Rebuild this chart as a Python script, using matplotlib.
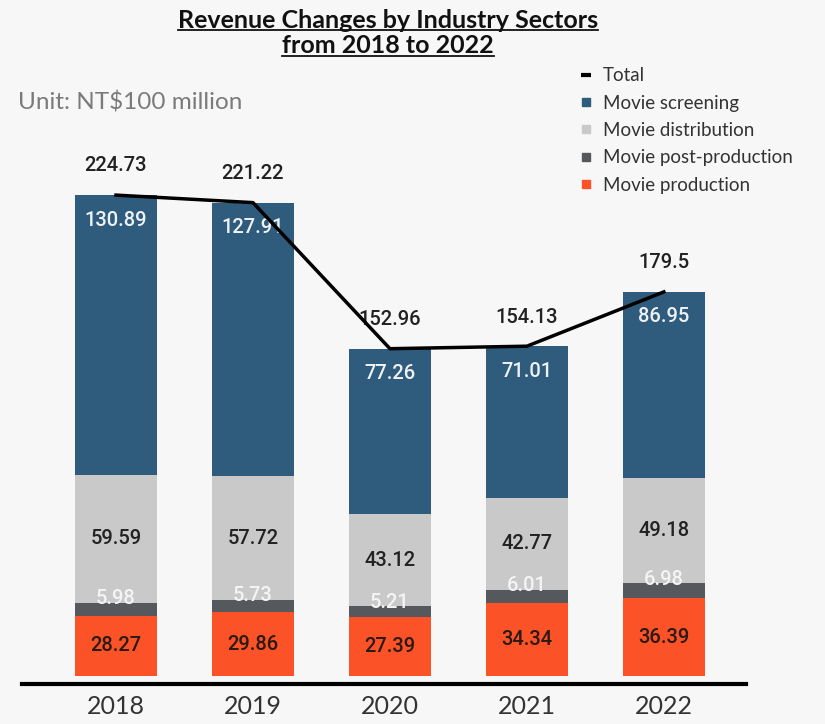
import matplotlib.pyplot as plt
import numpy as np
from matplotlib.lines import Line2D

years = ['2018', '2019', '2020', '2021', '2022']
production = [28.27, 29.86, 27.39, 34.34, 36.39]
post_production = [5.98, 5.73, 5.21, 6.01, 6.98]
distribution = [59.59, 57.72, 43.12, 42.77, 49.18]
screening = [130.89, 127.91, 77.26, 71.01, 86.95]
total = [224.73, 221.22, 152.96, 154.13, 179.5]

c_screen = '#2f5b7c'
c_dist = '#c9c9c9'
c_post = '#55595d'
c_prod = '#fb5227'
bg = '#f7f7f7'

fig = plt.figure(figsize=(8.25, 7.24), dpi=100, facecolor=bg)
ax = fig.add_axes([0.0267, 0.0552, 0.8776, 0.8978])
ax.set_facecolor(bg)

x = np.arange(len(years))
w = 0.6
b1 = np.array(production)
b2 = b1 + np.array(post_production)
b3 = b2 + np.array(distribution)

ax.bar(x, production, w, color=c_prod)
ax.bar(x, post_production, w, bottom=b1, color=c_post)
ax.bar(x, distribution, w, bottom=b2, color=c_dist)
ax.bar(x, screening, w, bottom=b3, color=c_screen)
ax.plot(x, total, color='black', lw=2.5, zorder=5)

num_font = dict(family='Roboto', fontweight='medium', fontsize=14.5, ha='center', va='center')
for i in range(len(years)):
    ax.text(x[i], production[i] / 2, f'{production[i]:.2f}', color='#2a1a14', **num_font)
    ax.annotate(f'{post_production[i]:.2f}', (x[i], b2[i]), xytext=(0, 3),
                textcoords='offset points', color='#f4f4f4', **num_font)
    ax.text(x[i], b2[i] + distribution[i] / 2, f'{distribution[i]:.2f}', color='#222222', **num_font)
    ax.annotate(f'{screening[i]:.2f}', (x[i], b3[i] + screening[i]), xytext=(0, -18),
                textcoords='offset points', color='#eef2f5', **num_font)
    ax.annotate(f'{total[i]:g}', (x[i], total[i]), xytext=(0, 21),
                textcoords='offset points', color='#222222', **num_font)

ax.set_xlim(-0.686, 4.6)
ax.set_ylim(-3.74, 300)
for s in ['top', 'right', 'left']:
    ax.spines[s].set_visible(False)
ax.spines['bottom'].set_linewidth(3)
ax.set_yticks([])
ax.set_xticks(x)
ax.set_xticklabels(years, fontsize=18, color='#333333', family='Lato')
ax.tick_params(axis='x', length=0, pad=8)

# title with underline
t1 = fig.text(0.47, 0.972, 'Revenue Changes by Industry Sectors', ha='center', va='center',
              fontsize=18, fontweight='bold', family='Lato', color='#111111')
t2 = fig.text(0.47, 0.937, 'from 2018 to 2022', ha='center', va='center',
              fontsize=18, fontweight='bold', family='Lato', color='#111111')
fig.canvas.draw()
r = fig.canvas.get_renderer()
for t in (t1, t2):
    bb = t.get_window_extent(r).transformed(fig.transFigure.inverted())
    fig.add_artist(Line2D([bb.x0, bb.x1], [bb.y0 + 0.002, bb.y0 + 0.002],
                          transform=fig.transFigure, color='#111111', lw=1.3))

fig.text(0.022, 0.858, 'Unit: NT$100 million', fontsize=17.5, family='Lato',
         color='#7a7a7a', va='center')

handles = [
    Line2D([], [], color='black', marker='_', ls='none', markersize=7, markeredgewidth=3),
    Line2D([], [], color=c_screen, marker='s', ls='none', markersize=6),
    Line2D([], [], color=c_dist, marker='s', ls='none', markersize=6),
    Line2D([], [], color=c_post, marker='s', ls='none', markersize=6),
    Line2D([], [], color=c_prod, marker='s', ls='none', markersize=6),
]
labels = ['Total', 'Movie screening', 'Movie distribution', 'Movie post-production', 'Movie production']
leg = fig.legend(handles, labels, loc='upper left', bbox_to_anchor=(0.69, 0.92),
                 frameon=False, fontsize=13.5, handlelength=0.8, handletextpad=0.5,
                 labelspacing=0.55, borderpad=0)
for txt in leg.get_texts():
    txt.set_family('Lato')
    txt.set_color('#333333')

fig.savefig('out.png', dpi=100, facecolor=bg)
